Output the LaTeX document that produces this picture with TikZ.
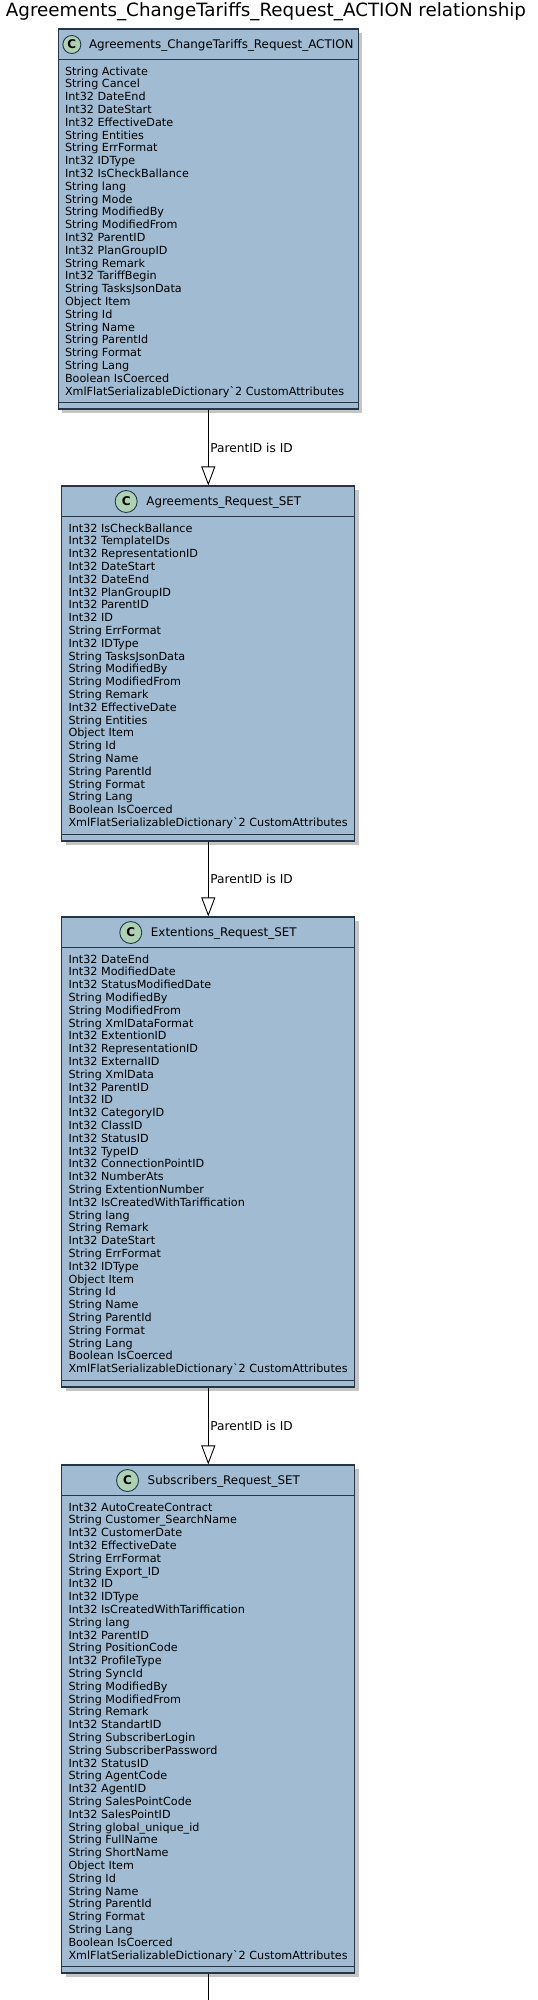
\documentclass[tikz,border=0pt]{standalone}
\usepackage{fontspec}
\newfontfamily\dv{DejaVu Sans}
\usetikzlibrary{arrows.meta,shadows}
\definecolor{boxfill}{RGB}{160,187,210}
\definecolor{boxline}{RGB}{38,54,72}
\definecolor{circfill}{RGB}{173,209,178}
\begin{document}
\begin{tikzpicture}[x=1pt,y=-1pt,
  classbox/.style={draw=boxline,line width=1.2pt,fill=boxfill,inner sep=0pt,
     drop shadow={shadow xshift=4pt,shadow yshift=-4pt,fill=black!45,opacity=0.5}},
  sepline/.style={draw=boxline,line width=1.2pt},
  cname/.style={font=\dv\fontsize{11.9}{14}\selectfont,inner sep=0pt,anchor=base},
  attr/.style={font=\dv\fontsize{11.2}{12.8}\selectfont,inner sep=0pt,anchor=base west},
  cmark/.style={circle,draw=boxline,line width=0.9pt,fill=circfill,inner sep=0pt,
     font=\dv\bfseries\fontsize{12}{12}\selectfont},
  rel/.style={draw=black,line width=0.9pt,-{Triangle[open,length=19pt,width=14pt]}},
  rellabel/.style={font=\dv\fontsize{12.2}{14}\selectfont,inner sep=0pt,anchor=west,xshift=1.5pt},
]
\useasboundingbox (0,0) rectangle (538,2000);
\fill[white] (0,0) rectangle (538,2000);

\node[font=\dv\fontsize{18.3}{20}\selectfont,inner sep=0pt,anchor=base] (title) at (266,16.5)
  {Agreements\_ChangeTariffs\_Request\_ACTION relationship};

% ---------- box 1 ----------
\node[classbox,minimum width=300pt,minimum height=380pt] (b1) at (208.3,219) {};
\draw[sepline] ([yshift=-31pt]b1.north west) -- ([yshift=-31pt]b1.north east);
\draw[sepline] ([yshift=7pt]b1.south west) -- ([yshift=7pt]b1.south east);
\node[cname] (n1) at (221.3,48.7) {Agreements\_ChangeTariffs\_Request\_ACTION};
\node[cmark,minimum size=18pt] (c1) at ([xshift=-17pt,yshift=4.2pt]n1.base west) {C};
\foreach \t [count=\i] in {String Activate,String Cancel,Int32 DateEnd,Int32 DateStart,
  Int32 EffectiveDate,String Entities,String ErrFormat,Int32 IDType,Int32 IsCheckBallance,
  String lang,String Mode,String ModifiedBy,String ModifiedFrom,Int32 ParentID,
  Int32 PlanGroupID,String Remark,Int32 TariffBegin,String TasksJsonData,Object Item,
  String Id,String Name,String ParentId,String Format,String Lang,Boolean IsCoerced,
  XmlFlatSerializableDictionary`2 CustomAttributes}
  \node[attr] (a1-\i) at (64.8,{75+(\i-1)*12.8}) {\t};

% ---------- box 2 ----------
\node[classbox,minimum width=293pt,minimum height=355pt] (b2) at (208.3,663.5) {};
\draw[sepline] ([yshift=-31pt]b2.north west) -- ([yshift=-31pt]b2.north east);
\draw[sepline] ([yshift=7pt]b2.south west) -- ([yshift=7pt]b2.south east);
\node[cname] (n2) at (223.8,505.7) {Agreements\_Request\_SET};
\node[cmark,minimum size=22pt] (c2) at ([xshift=-20pt,yshift=4.2pt]n2.base west) {C};
\foreach \t [count=\i] in {Int32 IsCheckBallance,Int32 TemplateIDs,Int32 RepresentationID,
  Int32 DateStart,Int32 DateEnd,Int32 PlanGroupID,Int32 ParentID,Int32 ID,String ErrFormat,
  Int32 IDType,String TasksJsonData,String ModifiedBy,String ModifiedFrom,String Remark,
  Int32 EffectiveDate,String Entities,Object Item,String Id,String Name,String ParentId,
  String Format,String Lang,Boolean IsCoerced,
  XmlFlatSerializableDictionary`2 CustomAttributes}
  \node[attr] (a2-\i) at (68.3,{532+(\i-1)*12.8}) {\t};

% ---------- box 3 ----------
\node[classbox,minimum width=293pt,minimum height=470pt] (b3) at (208.3,1152) {};
\draw[sepline] ([yshift=-31pt]b3.north west) -- ([yshift=-31pt]b3.north east);
\draw[sepline] ([yshift=7pt]b3.south west) -- ([yshift=7pt]b3.south east);
\node[cname] (n3) at (223.8,936.7) {Extentions\_Request\_SET};
\node[cmark,minimum size=22pt] (c3) at ([xshift=-20pt,yshift=4.2pt]n3.base west) {C};
\foreach \t [count=\i] in {Int32 DateEnd,Int32 ModifiedDate,Int32 StatusModifiedDate,
  String ModifiedBy,String ModifiedFrom,String XmlDataFormat,Int32 ExtentionID,
  Int32 RepresentationID,Int32 ExternalID,String XmlData,Int32 ParentID,Int32 ID,
  Int32 CategoryID,Int32 ClassID,Int32 StatusID,Int32 TypeID,Int32 ConnectionPointID,
  Int32 NumberAts,String ExtentionNumber,Int32 IsCreatedWithTariffication,String lang,
  String Remark,Int32 DateStart,String ErrFormat,Int32 IDType,Object Item,String Id,
  String Name,String ParentId,String Format,String Lang,Boolean IsCoerced,
  XmlFlatSerializableDictionary`2 CustomAttributes}
  \node[attr] (a3-\i) at (68.3,{963+(\i-1)*12.8}) {\t};

% ---------- box 4 ----------
\node[classbox,minimum width=293pt,minimum height=508pt] (b4) at (208.3,1719) {};
\draw[sepline] ([yshift=-31pt]b4.north west) -- ([yshift=-31pt]b4.north east);
\draw[sepline] ([yshift=7pt]b4.south west) -- ([yshift=7pt]b4.south east);
\node[cname] (n4) at (223.8,1484.7) {Subscribers\_Request\_SET};
\node[cmark,minimum size=22pt] (c4) at ([xshift=-20pt,yshift=4.2pt]n4.base west) {C};
\foreach \t [count=\i] in {Int32 AutoCreateContract,String Customer\_SearchName,
  Int32 CustomerDate,Int32 EffectiveDate,String ErrFormat,String Export\_ID,Int32 ID,
  Int32 IDType,Int32 IsCreatedWithTariffication,String lang,Int32 ParentID,
  String PositionCode,Int32 ProfileType,String SyncId,String ModifiedBy,String ModifiedFrom,
  String Remark,Int32 StandartID,String SubscriberLogin,String SubscriberPassword,
  Int32 StatusID,String AgentCode,Int32 AgentID,String SalesPointCode,Int32 SalesPointID,
  String global\_unique\_id,String FullName,String ShortName,Object Item,String Id,
  String Name,String ParentId,String Format,String Lang,Boolean IsCoerced,
  XmlFlatSerializableDictionary`2 CustomAttributes}
  \node[attr] (a4-\i) at (68.3,{1511+(\i-1)*12.8}) {\t};

% ---------- connectors ----------
\draw[rel] (b1.south) -- node[rellabel] (l1) {ParentID is ID} (b2.north);
\draw[rel] (b2.south) -- node[rellabel] (l2) {ParentID is ID} (b3.north);
\draw[rel] (b3.south) -- node[rellabel] (l3) {ParentID is ID} (b4.north);
\coordinate (tail) at (208.3,2000);
\draw[line width=0.9pt] (b4.south) -- (tail);
\end{tikzpicture}
\end{document}
